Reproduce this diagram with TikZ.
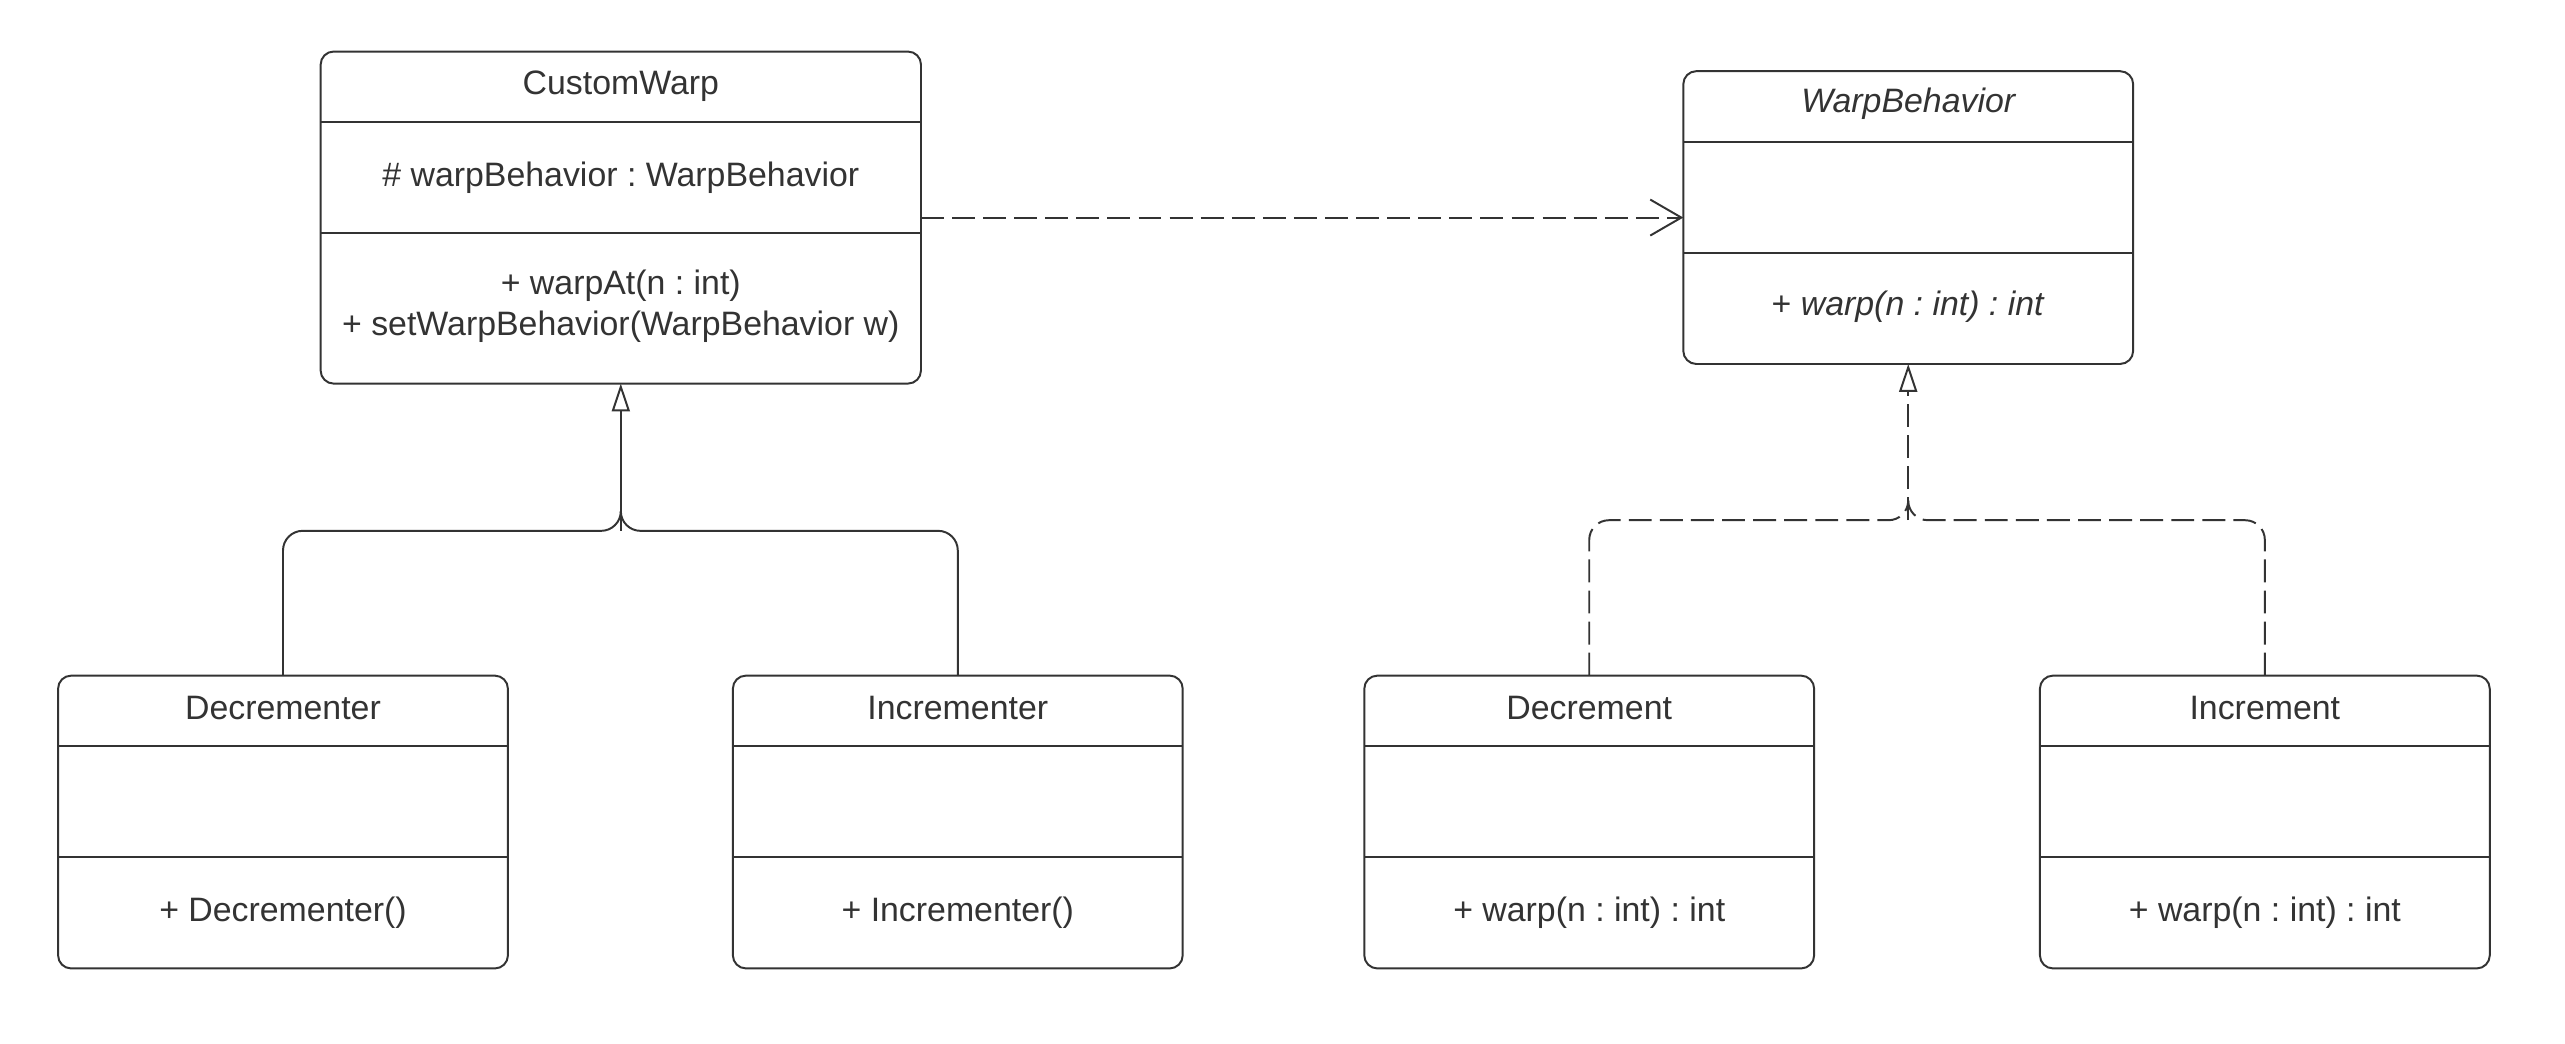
\documentclass[tikz,border=0pt]{standalone}
\usepackage{fontspec}
\setmainfont{Liberation Sans}
\usetikzlibrary{arrows.meta}
\frenchspacing

\definecolor{umlgray}{HTML}{333333}

\tikzset{
  classbox/.style={draw=umlgray,line width=0.6pt,rounded corners=4pt,inner sep=0pt,outer sep=0pt,
    minimum width=137.5pt,minimum height=89.5pt},
  classtext/.style={text=umlgray,anchor=base,inner sep=0pt,font=\fontsize{10.35pt}{12.5pt}\selectfont},
  divider/.style={umlgray,line width=0.6pt},
  thindiv/.style={umlgray,line width=0.35pt},
  inherit/.style={umlgray,line width=0.6pt,rounded corners=6pt},
  realize/.style={inherit,dash pattern=on 7pt off 2.5pt},
  depend/.style={umlgray,line width=0.6pt,dash pattern=on 7pt off 2.5pt,
    -{Straight Barb[length=9.5pt,width=11pt]}},
  gentip/.style={-{Triangle[open,length=8.5pt,width=5.5pt]}}
}

\begin{document}
\begin{tikzpicture}[x=0.5pt,y=-0.5pt]
\useasboundingbox (0,0) rectangle (1568,638);

% The two parent classes
\node[classbox,minimum width=183.5pt,minimum height=101.5pt] (cw) at (379.5,133) {};
\node[classbox] (wb) at (1166.5,133) {};

\draw[divider] ([yshift=-21.5pt]cw.north west) -- ([yshift=-21.5pt]cw.north east);
\draw[divider] ([yshift=-55.5pt]cw.north west) -- ([yshift=-55.5pt]cw.north east);
\node[classtext] (cw title) at (379.5,58) {CustomWarp};
\node[classtext] (cw attr) at (379.5,114) {\# warpBehavior : WarpBehavior};
\node[classtext] (cw op1) at (379.5,180) {+ warpAt(n : int)};
\node[classtext] (cw op2) at (379.5,205) {+ setWarpBehavior(WarpBehavior w)};

\draw[divider] ([yshift=-21.75pt]wb.north west) -- ([yshift=-21.75pt]wb.north east);
\draw[divider] ([yshift=-55.5pt]wb.north west) -- ([yshift=-55.5pt]wb.north east);
\node[classtext] (wb title) at (1166.5,69) {\itshape WarpBehavior};
\node[classtext] (wb op) at (1166.5,193) {+ \textit{warp(n : int) : int}};

% The four child classes
\foreach \nm/\cx/\title/\op in {dec/173/Decrementer/+ Decrementer(),
    inc/585.5/Incrementer/+ Incrementer(),
    decr/971.5/Decrement/+ warp(n : int) : int,
    incr/1384.5/Increment/+ warp(n : int) : int}
{
	\node[classbox] (\nm) at (\cx,502.5) {};
	\draw[thindiv] ([yshift=-21.5pt]\nm.north west) -- ([yshift=-21.5pt]\nm.north east);
	\draw[divider] ([yshift=-55.5pt]\nm.north west) -- ([yshift=-55.5pt]\nm.north east);
	\node[classtext] (\nm title) at (\cx,440) {\title};
	\node[classtext] (\nm op) at (\cx,563.5) {\op};
}

% Generalization
\path (cw.south) ++(0,90) coordinate (cw join);
\draw[inherit] (dec.north) |- (cw join) -- ++(0,-12);
\draw[inherit] (inc.north) |- (cw join) -- ++(0,-12);
\draw[inherit,gentip] (cw join) -- (cw.south);

% Realization
\path (wb.south) ++(0,95.5) coordinate (wb join);
\draw[realize] (decr.north) |- (wb join) -- ++(0,-12);
\draw[realize] (incr.north) |- (wb join) -- ++(0,-12);
\draw[realize,gentip] (wb join) -- (wb.south);

% Dependency
\draw[depend] (cw.east) -- (wb.west);

\end{tikzpicture}
\end{document}
